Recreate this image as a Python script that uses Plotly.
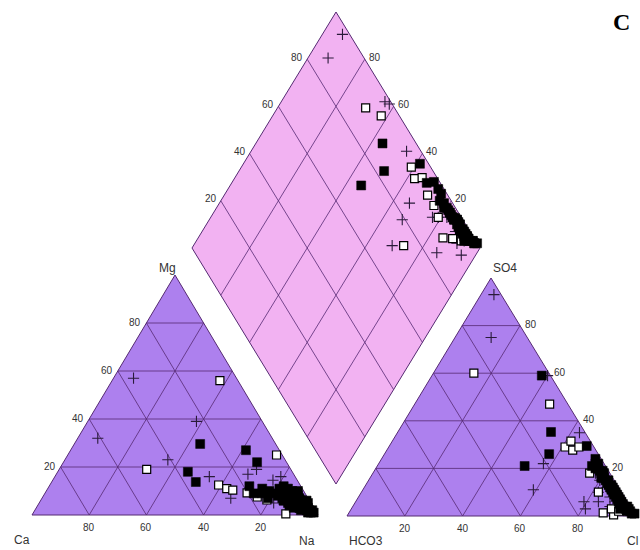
import plotly.graph_objects as go

# ---------------- data (percent of meq) ----------------
ticks = [20, 40, 60, 80]
tick_labels = ["20", "40", "60", "80"]

# series 1: filled squares
fill_na = [44, 50.4, 45.5, 67.7, 61.3, 85,
           78, 80, 81, 82, 83, 84, 85, 85, 86, 87, 87, 88, 88, 89, 89, 90, 90, 91, 91, 92,
           92, 93, 93, 94, 94, 95, 95, 96, 96, 97, 97, 98, 84, 86, 82, 79, 76, 88, 90, 93,
           70, 73, 75]
fill_mg = [29.6, 13.75, 18, 22, 27, 6,
           10, 9, 11, 8, 10, 7, 9, 6, 8, 5, 9, 7, 4, 6, 8, 5, 3, 6, 4, 5,
           3, 4, 2, 3, 5, 2, 3, 2, 1, 2, 1, 1, 11, 10, 12, 7, 9, 10, 7, 6,
           12, 9, 11]
fill_so4 = [35.3, 26, 21, 21, 59, 29.4,
            20, 18, 17, 16, 15, 19, 14, 13, 12, 11, 15, 10, 9, 12, 8, 7, 11, 6, 10, 5,
            8, 4, 7, 3, 6, 2, 5, 3, 1, 2, 4, 1, 21, 18, 22, 16, 20, 13, 9, 3,
            24, 22, 19]
fill_cl = [53, 57, 51, 74.3, 38, 68.3,
           77, 79, 80, 81, 82, 78, 83, 84, 86, 86, 83, 87, 89, 85, 89, 90, 87, 91, 88, 92,
           90, 94, 91, 95, 92, 96, 93, 96, 98, 97, 95, 99, 76, 80, 75, 80, 76, 85, 88, 93,
           74, 76, 79]

# series 2: open squares
open_na = [37.7, 30.6, 73, 59, 62.6, 65, 70.6, 79, 85, 88.5, 75, 92]
open_mg = [56, 19, 25, 12.5, 11, 10.4, 9.2, 6.25, 7, 0.5, 7.5, 3]
open_so4 = [47, 29, 60, 31.5, 27.7, 29, 18, 10, 1.3, 0.5, 3, 2]
open_cl = [46.7, 61, 14, 61.8, 64.3, 65.8, 75, 82, 88, 92, 90, 93]

# series 3: crosses
plus_na = [7, 7, 38, 36, 54, 67, 69, 66, 79, 77, 91, 95, 86, 88, 93, 82, 90]
plus_mg = [57, 32, 39, 23, 16, 17, 19, 7, 16, 14.5, 4, 2, 7, 9, 5, 5, 8]
plus_so4 = [93, 75, 59, 35, 18, 22, 11, 6, 10, 6, 4, 2, 3, 8, 12, 15, 5]
plus_cl = [4.5, 12.5, 40, 63, 77, 57, 59, 79, 82, 84, 89, 90, 81, 87, 84, 80, 92]

# ---------------- geometry (layout only) ----------------
CAT = {"l": (32, 515), "r": (318, 515), "t": (175, 275)}     # Ca, Na, Mg
ANI = {"l": (347, 516), "r": (636, 516), "t": (491, 278)}    # HCO3, Cl, SO4
DIA = {"b": (336, 484), "r": (480, 248), "l": (192, 248), "t": (336, 12)}

GRID = "#552a72"
TRI_FILL = "#ad80ee"
DIA_FILL = "#f2b2f2"
FONT = "Arial, Liberation Sans, sans-serif"


def tri_xy(c, l, r, t):
    x = (l * c["l"][0] + r * c["r"][0] + t * c["t"][0]) / 100.0
    y = (l * c["l"][1] + r * c["r"][1] + t * c["t"][1]) / 100.0
    return x, y


def dia_xy(p, q):
    # p = Ca+Mg, q = SO4+Cl
    b, r, l = DIA["b"], DIA["r"], DIA["l"]
    x = b[0] + q / 100.0 * (r[0] - b[0]) + p / 100.0 * (l[0] - b[0])
    y = b[1] + q / 100.0 * (r[1] - b[1]) + p / 100.0 * (l[1] - b[1])
    return x, y


def cation_pts(na, mg):
    xs, ys = [], []
    for n, m in zip(na, mg):
        x, y = tri_xy(CAT, 100 - n - m, n, m)
        xs.append(x); ys.append(y)
    return xs, ys


def anion_pts(so4, cl):
    xs, ys = [], []
    for s, c in zip(so4, cl):
        x, y = tri_xy(ANI, 100 - s - c, c, s)
        xs.append(x); ys.append(y)
    return xs, ys


def diamond_pts(na, so4, cl):
    xs, ys = [], []
    for n, s, c in zip(na, so4, cl):
        x, y = dia_xy(100 - n, s + c)
        xs.append(x); ys.append(y)
    return xs, ys


fig = go.Figure()

# ---- backgrounds ----
for c in (CAT, ANI):
    xs = [c["l"][0], c["r"][0], c["t"][0], c["l"][0]]
    ys = [c["l"][1], c["r"][1], c["t"][1], c["l"][1]]
    fig.add_trace(go.Scatter(x=xs, y=ys, mode="lines", fill="toself", fillcolor=TRI_FILL,
                             line=dict(color=GRID, width=1), hoverinfo="skip", showlegend=False))
xs = [DIA["b"][0], DIA["r"][0], DIA["t"][0], DIA["l"][0], DIA["b"][0]]
ys = [DIA["b"][1], DIA["r"][1], DIA["t"][1], DIA["l"][1], DIA["b"][1]]
fig.add_trace(go.Scatter(x=xs, y=ys, mode="lines", fill="toself", fillcolor=DIA_FILL,
                         line=dict(color=GRID, width=1), hoverinfo="skip", showlegend=False))

# ---- grids ----
def tri_grid(c):
    gx, gy = [], []
    for v in ticks:
        w = 100 - v
        for a, b in ((tri_xy(c, w, 0, v), tri_xy(c, 0, w, v)),
                     (tri_xy(c, v, w, 0), tri_xy(c, v, 0, w)),
                     (tri_xy(c, w, v, 0), tri_xy(c, 0, v, w))):
            gx += [a[0], b[0], None]; gy += [a[1], b[1], None]
    return gx, gy

for c in (CAT, ANI):
    gx, gy = tri_grid(c)
    fig.add_trace(go.Scatter(x=gx, y=gy, mode="lines", line=dict(color=GRID, width=0.8),
                             hoverinfo="skip", showlegend=False))

gx, gy = [], []
for v in ticks:
    a, b = dia_xy(v, 0), dia_xy(v, 100)
    gx += [a[0], b[0], None]; gy += [a[1], b[1], None]
    a, b = dia_xy(0, v), dia_xy(100, v)
    gx += [a[0], b[0], None]; gy += [a[1], b[1], None]
fig.add_trace(go.Scatter(x=gx, y=gy, mode="lines", line=dict(color=GRID, width=0.8),
                         hoverinfo="skip", showlegend=False))

# ---- samples ----
series = [
    (plus_na, plus_mg, plus_so4, plus_cl,
     dict(symbol="cross-thin-open", size=8, color="#2a1a3a", line=dict(color="#2a1a3a", width=1.1))),
    (open_na, open_mg, open_so4, open_cl,
     dict(symbol="square", size=8, color="white", line=dict(color="black", width=1.2))),
    (fill_na, fill_mg, fill_so4, fill_cl,
     dict(symbol="square", size=9, color="black", line=dict(color="black", width=0.5))),
]
for na, mg, so4, cl, mk in series:
    for xs, ys in (cation_pts(na, mg), anion_pts(so4, cl), diamond_pts(na, so4, cl)):
        fig.add_trace(go.Scatter(x=xs, y=ys, mode="markers", marker=mk,
                                 hoverinfo="skip", showlegend=False))

# ---- labels ----
ann = []
def lab(x, y, t, xa="center", ya="middle", size=10, xs=0, ys=0):
    ann.append(dict(x=x, y=y, text=t, showarrow=False, xanchor=xa, yanchor=ya,
                    xshift=xs, yshift=ys, font=dict(family=FONT, size=size, color="#333")))

for v, t in zip(ticks, tick_labels):
    # cation: Mg on left edge, Ca on bottom
    x, y = tri_xy(CAT, 100 - v, 0, v); lab(x, y, t, xa="right", xs=-3, ys=1)
    x, y = tri_xy(CAT, v, 100 - v, 0); lab(x, y, t, ya="top", ys=-5)
    # anion: SO4 on right edge, Cl on bottom
    x, y = tri_xy(ANI, 0, 100 - v, v); lab(x, y, t, xa="left", xs=3, ys=1)
    x, y = tri_xy(ANI, 100 - v, v, 0); lab(x, y, t, ya="top", ys=-5)
    # diamond
    x, y = dia_xy(100, v); lab(x, y, t, xa="right", xs=-2, ys=2)
    x, y = dia_xy(v, 100); lab(x, y, t, xa="left", xs=2, ys=2)

lab(CAT["t"][0] - 8, CAT["t"][1] - 7, "Mg", size=12)
lab(22, 540, "Ca", size=12)
lab(307, 541, "Na", size=12)
lab(366, 541, "HCO3", size=12)
lab(505, 268, "SO4", size=12)
lab(640, 541, "Cl", xa="right", size=12)
ann.append(dict(x=621, y=22, text="<b>C</b>", showarrow=False, xanchor="center", yanchor="middle",
                font=dict(family="Liberation Serif, Times New Roman, serif", size=24, color="black")))

fig.update_layout(
    width=640, height=550, margin=dict(l=0, r=0, t=0, b=0),
    paper_bgcolor="white", plot_bgcolor="white",
    xaxis=dict(range=[0, 640], visible=False, fixedrange=True),
    yaxis=dict(range=[550, 0], visible=False, fixedrange=True),
    annotations=ann,
)
fig.write_html("out.html", config={"displayModeBar": False},
               post_script="document.body.style.margin='0';document.body.style.overflow='hidden';")
